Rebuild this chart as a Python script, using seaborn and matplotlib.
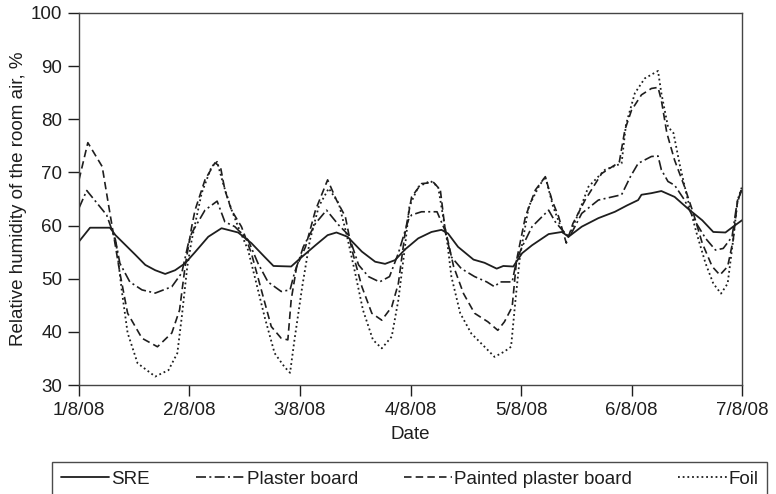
import matplotlib
matplotlib.use("Agg")
import matplotlib.pyplot as plt
import seaborn as sns
import pandas as pd

# days after 1/8/08
sre_day = [0, 0.10, 0.28, 0.33, 0.51, 0.60, 0.69, 0.78, 0.87, 0.96, 1.05, 1.17, 1.29, 1.44,
           1.56, 1.68, 1.76, 1.92, 2.0, 2.14, 2.25, 2.33, 2.43, 2.56, 2.68, 2.77, 2.86, 2.95,
           3.07, 3.19, 3.28, 3.34, 3.43, 3.57, 3.67, 3.78, 3.84, 3.93, 4.01, 4.10, 4.25, 4.37,
           4.43, 4.55, 4.70, 4.85, 4.96, 5.06, 5.09, 5.18, 5.27, 5.39, 5.51, 5.64, 5.74, 5.85,
           5.92, 6.0]
sre_rh = [57.0, 59.6, 59.6, 58.2, 54.5, 52.6, 51.6, 50.9, 51.6, 52.9, 55.0, 57.9, 59.5, 58.7,
          56.7, 54.1, 52.4, 52.3, 53.8, 56.3, 58.2, 58.7, 57.9, 55.1, 53.2, 52.8, 53.5, 55.5,
          57.6, 58.8, 59.2, 58.5, 56.0, 53.6, 53.0, 51.9, 52.4, 52.3, 54.8, 56.3, 58.4, 58.8,
          57.9, 59.8, 61.4, 62.6, 63.8, 64.8, 65.8, 66.1, 66.5, 65.4, 63.2, 61.0, 58.8, 58.7,
          59.8, 61.0]

plaster_day = [0, 0.07, 0.25, 0.33, 0.37, 0.46, 0.57, 0.69, 0.84, 0.93, 0.99, 1.02, 1.14, 1.25,
               1.32, 1.41, 1.53, 1.62, 1.71, 1.83, 1.91, 1.95, 2.0, 2.03, 2.14, 2.24, 2.35, 2.44,
               2.53, 2.62, 2.72, 2.81, 2.89, 2.98, 3.01, 3.10, 3.24, 3.31, 3.37, 3.46, 3.58, 3.69,
               3.76, 3.81, 3.92, 3.96, 4.01, 4.10, 4.25, 4.31, 4.40, 4.44, 4.55, 4.70, 4.91, 4.99,
               5.06, 5.18, 5.24, 5.27, 5.33, 5.39, 5.48, 5.57, 5.67, 5.76, 5.83, 5.91, 5.95, 6.0]
plaster_rh = [63.3, 66.6, 62.0, 57.3, 52.9, 49.4, 47.9, 47.3, 48.5, 51.1, 56.7, 58.6, 62.9, 64.6,
              60.7, 59.8, 57.3, 52.9, 49.4, 47.6, 47.9, 51.1, 54.1, 56.0, 60.4, 62.9, 60.1, 58.2,
              52.6, 50.4, 49.4, 50.4, 54.8, 61.0, 62.0, 62.6, 62.6, 59.2, 54.1, 51.9, 50.4, 49.4,
              48.5, 49.4, 49.4, 53.5, 56.0, 59.8, 62.9, 60.7, 58.5, 57.9, 62.3, 64.8, 65.8, 69.2,
              71.7, 73.0, 73.1, 70.5, 68.3, 67.6, 64.8, 61.0, 57.6, 55.4, 55.7, 57.9, 63.6, 67.3]

painted_day = [0, 0.08, 0.21, 0.26, 0.31, 0.37, 0.44, 0.57, 0.71, 0.84, 0.91, 0.96, 1.02, 1.05,
               1.14, 1.23, 1.28, 1.32, 1.38, 1.47, 1.56, 1.65, 1.74, 1.83, 1.89, 1.92, 1.97, 2.05,
               2.14, 2.25, 2.33, 2.41, 2.47, 2.56, 2.65, 2.74, 2.83, 2.89, 2.95, 3.01, 3.10, 3.21,
               3.27, 3.31, 3.39, 3.48, 3.58, 3.70, 3.79, 3.85, 3.92, 3.96, 4.04, 4.13, 4.22, 4.28,
               4.34, 4.41, 4.47, 4.58, 4.73, 4.85, 4.89, 4.94, 5.0, 5.09, 5.18, 5.24, 5.27, 5.32,
               5.39, 5.48, 5.56, 5.64, 5.73, 5.80, 5.87, 5.92, 5.96, 6.0]
painted_rh = [68.6, 75.6, 71.1, 64.8, 58.6, 51.1, 43.5, 38.8, 37.2, 39.8, 44.1, 52.3, 59.8, 62.9,
              68.6, 71.8, 71.1, 66.7, 62.9, 59.8, 54.8, 47.9, 41.0, 38.8, 38.5, 46.0, 52.3, 56.0,
              62.9, 68.6, 64.8, 61.7, 55.4, 48.5, 43.5, 42.2, 44.7, 49.1, 58.5, 65.4, 67.9, 68.1,
              66.7, 59.8, 52.3, 47.2, 43.5, 41.9, 40.3, 41.9, 44.7, 53.5, 61.7, 66.7, 69.2, 64.8,
              61.7, 56.7, 60.4, 64.8, 69.8, 71.4, 72.0, 78.0, 81.7, 84.6, 85.8, 86.0, 83.6, 77.4,
              72.3, 67.3, 62.3, 56.7, 52.3, 50.7, 52.3, 57.3, 64.8, 66.7]

foil_day = [0.31, 0.34, 0.39, 0.44, 0.53, 0.69, 0.81, 0.89, 0.93, 0.98, 1.02, 1.11, 1.20, 1.25,
            1.31, 1.38, 1.44, 1.53, 1.59, 1.68, 1.77, 1.86, 1.91, 1.95, 2.02, 2.09, 2.17, 2.26,
            2.35, 2.42, 2.50, 2.57, 2.66, 2.74, 2.83, 2.89, 2.95, 2.99, 3.07, 3.18, 3.25, 3.33,
            3.37, 3.45, 3.55, 3.67, 3.76, 3.85, 3.91, 3.95, 3.99, 4.07, 4.16, 4.22, 4.29, 4.37,
            4.43, 4.52, 4.61, 4.76, 4.91, 4.95, 5.03, 5.12, 5.24, 5.27, 5.33, 5.38, 5.44, 5.51,
            5.59, 5.67, 5.74, 5.81, 5.87, 5.92, 5.96, 6.0]
foil_rh = [58.6, 56.0, 47.3, 39.8, 34.1, 31.6, 32.8, 36.0, 42.8, 52.3, 57.3, 66.1, 71.1, 72.0,
           67.5, 63.0, 59.8, 55.4, 50.4, 42.8, 36.0, 33.4, 32.3, 38.5, 48.5, 57.3, 63.6, 67.0,
           64.2, 58.5, 51.0, 44.1, 38.5, 36.9, 39.1, 46.0, 56.0, 63.6, 67.3, 68.4, 67.3, 57.3,
           50.4, 43.5, 39.7, 37.2, 35.3, 36.3, 37.2, 46.0, 54.1, 63.6, 67.3, 69.2, 63.6, 59.2,
           57.9, 62.3, 67.3, 70.5, 71.7, 79.0, 84.9, 87.7, 89.1, 84.9, 78.6, 77.4, 71.1, 64.8,
           58.5, 52.9, 49.1, 47.2, 49.1, 57.3, 64.8, 67.3]

tick_days = [0, 1, 2, 3, 4, 5, 6]
tick_labels = ["1/8/08", "2/8/08", "3/8/08", "4/8/08", "5/8/08", "6/8/08", "7/8/08"]

sns.set_style("ticks")
plt.rcParams['font.family'] = ['Liberation Sans', 'DejaVu Sans']
plt.rcParams['font.size'] = 13.5
ink = "#1e1e1e"

fig = plt.figure(figsize=(7.76, 4.94), dpi=100)
ax = fig.add_axes([0.1018, 0.2206, 0.8544, 0.7531])

series = [
    ("SRE", sre_day, sre_rh, "-", 1.3),
    ("Plaster board", plaster_day, plaster_rh, (0, (6, 2, 1.2, 2)), 1.2),
    ("Painted plaster board", painted_day, painted_rh, (0, (4.5, 2.5)), 1.2),
    ("Foil", foil_day, foil_rh, (0, (1, 1.6)), 1.3),
]
for name, d, rh, ls, lw in series:
    df = pd.DataFrame({"day": d, "rh": rh})
    sns.lineplot(data=df, x="day", y="rh", ax=ax, color=ink, linestyle=ls,
                 linewidth=lw, label=name, legend=False)

ax.set_xlim(0, 6)
ax.set_ylim(30, 100)
ax.set_xticks(tick_days)
ax.set_xticklabels(tick_labels)
ax.set_yticks(range(30, 101, 10))
ax.set_xlabel("Date", color=ink, labelpad=5)
ax.set_ylabel("Relative humidity of the room air, %", color=ink, labelpad=3)
ax.tick_params(direction="out", length=8, width=1, colors=ink, labelcolor=ink, pad=4)
for s in ax.spines.values():
    s.set_visible(True)
    s.set_color("#444444")
    s.set_linewidth(1)

handles, labels = ax.get_legend_handles_labels()
leg = fig.legend(handles, labels, loc="upper center", bbox_to_anchor=(0.528, 0.064),
                 ncol=4, frameon=True, fancybox=False, handlelength=2.6,
                 handletextpad=0.1, columnspacing=2.45, borderpad=0.45, borderaxespad=0,
                 fontsize=13.5)
leg.get_frame().set_edgecolor(ink)
leg.get_frame().set_linewidth(1)
for t in leg.get_texts():
    t.set_color(ink)

fig.savefig("out.png", dpi=100)
